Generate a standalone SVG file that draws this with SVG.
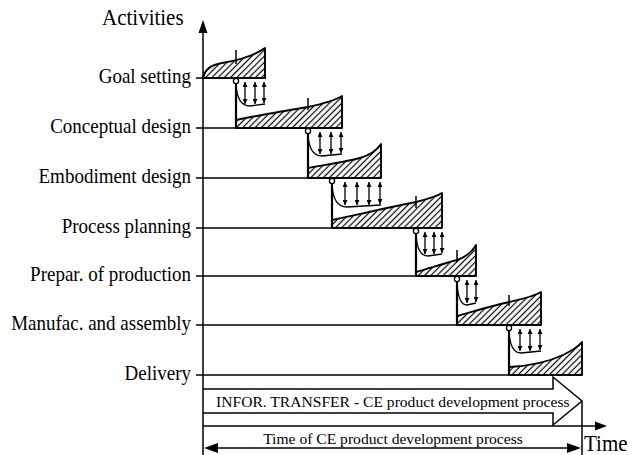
<svg xmlns="http://www.w3.org/2000/svg" width="637" height="455" viewBox="0 0 637 455">
<style>
text{font-family:'Liberation Serif','Times New Roman','DejaVu Serif',serif;fill:#000}
.lbl{font-size:19px}
.big{font-size:21px}
.sm{font-size:15.6px}
.ln{stroke:#000;stroke-width:1.5;fill:none}
.thick{stroke:#000;stroke-width:2.2;fill:none}
.shape{fill:url(#hatch);stroke:#000;stroke-width:1.9;stroke-linejoin:round}
.tick{stroke:#000;stroke-width:1.5}
.arc{stroke:#000;stroke-width:1.3;fill:none}
.ar{stroke:#000;stroke-width:1.3;fill:none;marker-start:url(#ah);marker-end:url(#ah)}
.circ{fill:#fff;stroke:#000;stroke-width:1.3}
</style>
<defs>
<pattern id="hatch" patternUnits="userSpaceOnUse" width="4.4" height="4.4" patternTransform="rotate(45)">
<line x1="2.2" y1="0" x2="2.2" y2="4.4" stroke="#000" stroke-width="1.2"/>
</pattern>
<marker id="ah" viewBox="0 0 6 6" refX="6" refY="3" markerUnits="userSpaceOnUse" markerWidth="5" markerHeight="5" orient="auto-start-reverse">
<path d="M0,0 L6,3 L0,6 z" fill="#000"/>
</marker>
</defs>
<rect width="637" height="455" fill="#fff"/>

<g id="axes">
<line class="ln" x1="203" y1="30" x2="203" y2="455"/>
<path d="M203,20 L207.5,33 L198.5,33 Z" fill="#000"/>
<line class="ln" x1="203" y1="426" x2="598" y2="426"/>
<path d="M607,426 L595,421.5 L595,430.5 Z" fill="#000"/>
<text class="big" font-family="Liberation Serif, serif" transform="translate(102 25) scale(1 1.12)">Activities</text>
<text class="big" font-family="Liberation Serif, serif" transform="translate(584 451) scale(1 1.1)">Time</text>
</g>

<g id="goal-setting">
<text class="lbl" text-anchor="end" transform="translate(191 83) scale(1 1.15)">Goal setting</text>
<line class="ln" x1="196" y1="78" x2="266" y2="78"/>
<path class="shape" d="M203,78 C205,69 211,65 222,63 C240,60 255,55 265,48 L265,78 Z"/>
<line class="tick" x1="236" y1="50" x2="236" y2="64"/>
</g>

<g id="conceptual-design">
<text class="lbl" text-anchor="end" transform="translate(191 133) scale(1 1.15)">Conceptual design</text>
<line class="ln" x1="196" y1="128" x2="342" y2="128"/>
<path class="shape" d="M236,128 L236,120 C260,115 290,110 308,107 C322,104 334,101 342,96 L342,128 Z"/>
<line class="thick" x1="236" y1="78" x2="236" y2="128"/>
<line class="tick" x1="308" y1="98" x2="308" y2="110"/>
</g>

<g id="embodiment-design">
<text class="lbl" text-anchor="end" transform="translate(191 183) scale(1 1.15)">Embodiment design</text>
<line class="ln" x1="196" y1="178" x2="381" y2="178"/>
<path class="shape" d="M308,178 L308,168 C330,164 350,161 360,158 C370,155 377,150 381,144 L381,178 Z"/>
<line class="thick" x1="308" y1="128" x2="308" y2="178"/>
</g>

<g id="process-planning">
<text class="lbl" text-anchor="end" transform="translate(191 233) scale(1 1.15)">Process planning</text>
<line class="ln" x1="196" y1="228" x2="442" y2="228"/>
<path class="shape" d="M332,228 L332,220 C360,214 395,206 416,202 C428,199 436,197 442,193 L442,228 Z"/>
<line class="thick" x1="332" y1="178" x2="332" y2="228"/>
<line class="tick" x1="416" y1="196" x2="416" y2="208"/>
</g>

<g id="prepar-of-production">
<text class="lbl" text-anchor="end" transform="translate(191 281) scale(1 1.15)">Prepar. of production</text>
<line class="ln" x1="196" y1="276" x2="476" y2="276"/>
<path class="shape" d="M416,276 L416,272 C430,268 445,263 457,260 C466,257 472,252 476,245 L476,276 Z"/>
<line class="thick" x1="416" y1="228" x2="416" y2="276"/>
<line class="tick" x1="457" y1="250" x2="457" y2="262"/>
</g>

<g id="manufac-and-assembly">
<text class="lbl" text-anchor="end" transform="translate(191 330) scale(1 1.15)">Manufac. and assembly</text>
<line class="ln" x1="196" y1="325" x2="541" y2="325"/>
<path class="shape" d="M457,325 L457,316 C475,311 495,305 509,302 C522,299 533,297 541,292 L541,325 Z"/>
<line class="thick" x1="457" y1="276" x2="457" y2="325"/>
<line class="tick" x1="509" y1="295" x2="509" y2="306"/>
</g>

<g id="delivery">
<text class="lbl" text-anchor="end" transform="translate(191 380) scale(1 1.15)">Delivery</text>
<line class="ln" x1="196" y1="375" x2="582" y2="375"/>
<path class="shape" d="M509,375 L509,367 C530,366 550,361 563,355 C571,351 578,347 582,342 L582,375 Z"/>
<line class="thick" x1="509" y1="325" x2="509" y2="375"/>
</g>

<g id="info-transfer">
<path class="ln" d="M203,389 H553 V377 L582,401 L553,425 V413 H203"/>
<text class="sm" x="216" y="407">INFOR. TRANSFER - CE product development process</text>
</g>

<g id="connectors">
<circle class="circ" cx="236" cy="81" r="2.6"/>
<path class="arc" d="M236,84 Q237,106 250,106 L265,104"/>
<line class="ar" x1="245" y1="82" x2="245" y2="104"/>
<line class="ar" x1="255" y1="82" x2="255" y2="104"/>
<line class="ar" x1="264" y1="82" x2="264" y2="103"/>

<circle class="circ" cx="308" cy="131" r="2.6"/>
<path class="arc" d="M308,134 Q309,156 322,156 L342,154"/>
<line class="ar" x1="320" y1="132" x2="320" y2="154"/>
<line class="ar" x1="331" y1="132" x2="331" y2="154"/>
<line class="ar" x1="341" y1="132" x2="341" y2="153"/>

<circle class="circ" cx="332" cy="181" r="2.6"/>
<path class="arc" d="M332,184 Q333,207 347,207 L381,205"/>
<line class="ar" x1="345" y1="182" x2="345" y2="205"/>
<line class="ar" x1="357" y1="182" x2="357" y2="205"/>
<line class="ar" x1="369" y1="182" x2="369" y2="205"/>
<line class="ar" x1="380" y1="182" x2="380" y2="204"/>

<circle class="circ" cx="416" cy="231" r="2.6"/>
<path class="arc" d="M416,234 Q417,256 428,256 L442,254"/>
<line class="ar" x1="425" y1="232" x2="425" y2="254"/>
<line class="ar" x1="434" y1="232" x2="434" y2="254"/>
<line class="ar" x1="442" y1="232" x2="442" y2="253"/>

<circle class="circ" cx="457" cy="279" r="2.6"/>
<path class="arc" d="M457,282 Q458,305 467,305 L476,303"/>
<line class="ar" x1="467" y1="280" x2="467" y2="303"/>
<line class="ar" x1="476" y1="280" x2="476" y2="302"/>

<circle class="circ" cx="509" cy="328" r="2.6"/>
<path class="arc" d="M509,331 Q510,353 521,353 L541,351"/>
<line class="ar" x1="520" y1="329" x2="520" y2="351"/>
<line class="ar" x1="530" y1="329" x2="530" y2="351"/>
<line class="ar" x1="540" y1="329" x2="540" y2="350"/>
</g>

<g id="time-dimension">
<line class="ln" x1="582" y1="401" x2="582" y2="455"/>
<line class="ln" x1="215" y1="448" x2="570" y2="448"/>
<path d="M204,448 L218,443 L218,453 Z" fill="#000"/>
<path d="M581,448 L567,443 L567,453 Z" fill="#000"/>
<text class="sm" x="393" y="444" text-anchor="middle">Time of CE product development process</text>
</g>
</svg>
